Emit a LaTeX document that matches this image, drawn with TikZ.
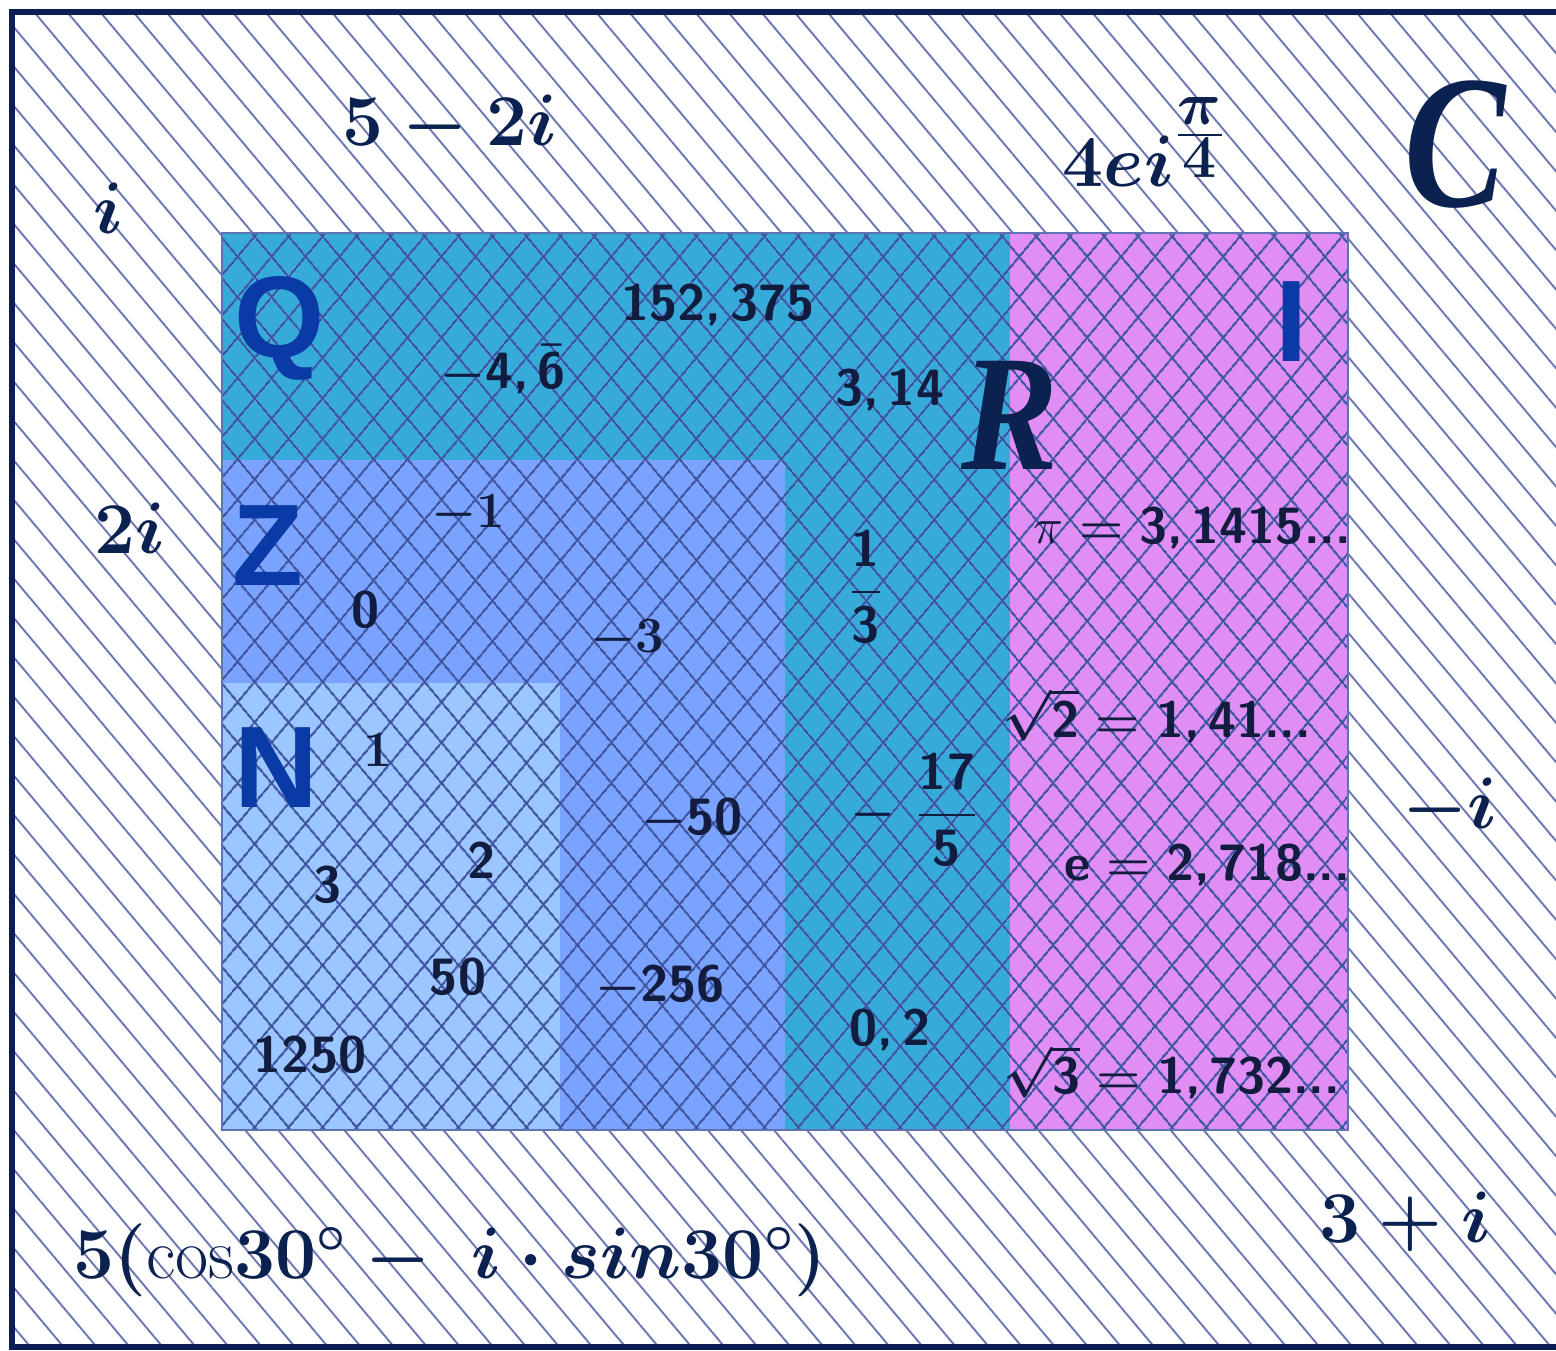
\documentclass[tikz,border=0pt]{standalone}
\usepackage{amsmath}
\usepackage{graphicx}
\usepackage{fontspec}
\usetikzlibrary{patterns.meta}
\newfontfamily\setfont{Liberation Sans}
\newfontfamily\bigserif{Liberation Serif}
\definecolor{frameblue}{HTML}{0B1F55}
\definecolor{hatchgray}{HTML}{6E78B4}
\definecolor{crossblue}{HTML}{1A3590}
\definecolor{qteal}{HTML}{36AAD8}
\definecolor{zblue}{HTML}{7AA2FF}
\definecolor{nblue}{HTML}{9BC6FF}
\definecolor{iviolet}{HTML}{E08DF4}
\definecolor{setblue}{HTML}{0A3AA6}
\definecolor{cpxink}{HTML}{0B2150}
\definecolor{numink}{HTML}{121C3E}
\begin{document}
\begin{tikzpicture}[x=0.01cm, y=-0.01cm,
    every node/.style={inner sep=0pt},
    setname/.style={font=\setfont\bfseries\fontsize{33}{36}\selectfont, text=setblue},
    bigit/.style={font=\bigserif\bfseries\itshape\fontsize{47}{50}\selectfont, text=cpxink},
    cpx/.style={font=\boldmath\fontsize{20}{24}\selectfont, text=cpxink},
    num/.style={font=\sffamily\bfseries\boldmath\fontsize{14.5}{17}\selectfont, text=numink},
    numserif/.style={font=\rmfamily\bfseries\boldmath\fontsize{14.5}{17}\selectfont, text=numink},
    crosshatch/.style={pattern={Lines[angle=#1, distance=7.4pt, line width=0.65pt]}, pattern color=crossblue!85}]
    \useasboundingbox (0,0) rectangle (1556,1350);
    % Background C
    \fill[white] (0,0) rectangle (1556,1350);
    \fill[pattern={Lines[angle=-50, distance=7.2pt, line width=0.55pt]}, pattern color=hatchgray] (12,12) rectangle (1600,1347);
    \draw[line width=1.7pt, frameblue] (12,12) rectangle (1600,1347);

    % Sets
    \fill[qteal] (222,233) rectangle (1010,1130);
    \fill[iviolet] (1010,233) rectangle (1348,1130);
    \fill[zblue] (222,460) rectangle (785,1130);
    \fill[nblue] (222,683) rectangle (560,1130);
    \fill[crosshatch=50] (222,233) rectangle (1348,1130);
    \fill[crosshatch=-50] (222,233) rectangle (1348,1130);
    \draw[line width=0.6pt, crossblue!70] (222,233) rectangle (1348,1130);

    % Set names
    \node (cset) [bigit, font=\bigserif\bfseries\itshape\fontsize{54}{56}\selectfont] at (1455,145) {\scalebox{0.8}[1]{C}};
    \node (rset) [bigit] at (1010,415) {\scalebox{0.88}[1]{R}};
    \node (qset) [setname] at (280,328) {Q};
    \node (iset) [setname] at (1292,322) {I};
    \node (zset) [setname] at (268,546) {Z};
    \node (nset) [setname] at (276,768) {N};

    % Complex numbers
    \node (cpxi) [cpx] at (108,208) {$i$};
    \node (cpxfive) [cpx] at (450,125) {$5-2i$};
    \node (cpxexp) [cpx, anchor=base west] at (1062,186) {$4ei^{\mbox{\fontsize{19}{22}\selectfont$\frac{\textstyle\pi}{\textstyle 4}$}}$};
    \node (cpxtwo) [cpx] at (130,528) {$2i$};
    \node (cpxneg) [cpx] at (1450,808) {$-i$};
    \node (cpxthree) [cpx] at (1405,1222) {$3+i$};
    \node (cpxpolar) [cpx, font=\boldmath\fontsize{20.5}{24}\selectfont] at (450,1260) {$5(\textnormal{cos}30^\circ-\ i\cdot sin30^\circ)$};

    % Real numbers
    \node (rnbar) [num] at (503,370) {$-\text{4,\,}\bar{\text{6}}$};
    \node (rnbig) [num] at (718,305) {152,\,375};
    \node (rnpi) [num] at (890,390) {3,\,14};
    \node (rnthird) [num] at (866,587) {$\dfrac{\text{1}}{\text{3}}$};
    \node (rnfrac) [num] at (915,810) {$-\ \dfrac{\text{17}}{\text{5}}$};
    \node (rnfifth) [num] at (890,1030) {0,\,2};
    \node (irpi) [num] at (1192,528) {\mbox{\unboldmath$\pi$}$\;=\;$3,\,1415...};
    \node (irtwo) [num] at (1157,715) {$\sqrt{\text{2}}=\text{1,\,41...}$};
    \node (ire) [num] at (1207,865) {e$\;=\;$2,\,718...};
    \node (irthree) [num] at (1172,1072) {$\sqrt{\text{3}}=\text{1,\,732...}$};

    % Integers
    \node (zmone) [numserif] at (468,515) {$-1$};
    \node (zzero) [num] at (366,610) {0};
    \node (zmthree) [numserif] at (627,640) {$-3$};
    \node (zmfifty) [num] at (692,820) {$-\text{50}$};
    \node (zmbig) [num] at (660,987) {$-\text{256}$};

    % Naturals
    \node (none) [numserif] at (378,750) {1};
    \node (ntwo) [num] at (482,860) {2};
    \node (nthree) [num] at (328,885) {3};
    \node (nfifty) [num] at (458,977) {50};
    \node (nbig) [num] at (310,1055) {1250};
\end{tikzpicture}
\end{document}
